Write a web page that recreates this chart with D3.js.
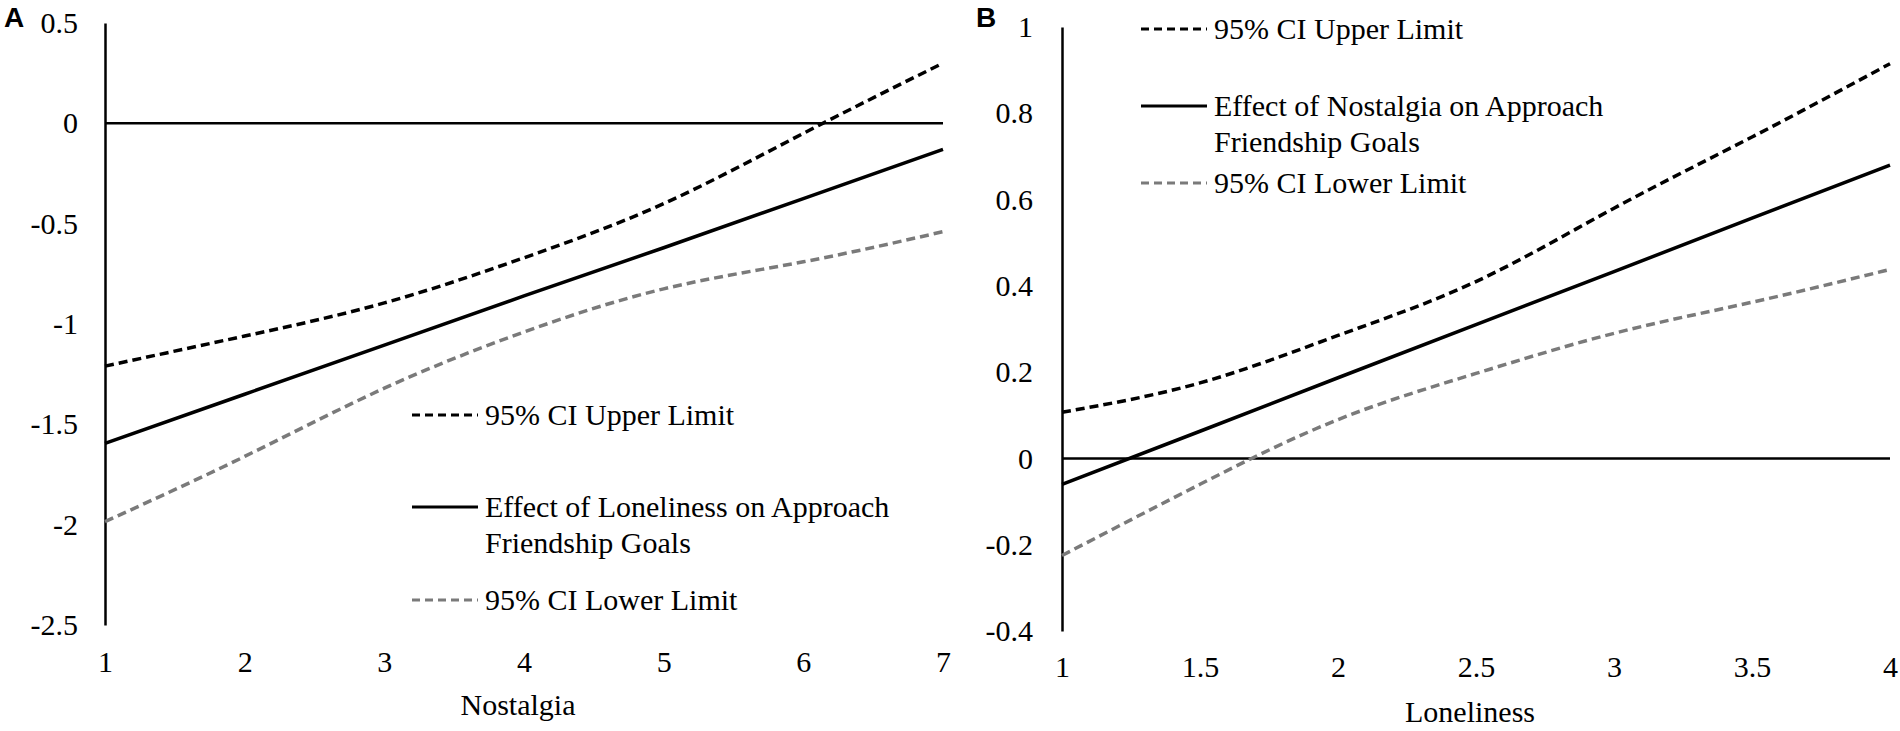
<!DOCTYPE html>
<html>
<head>
<meta charset="utf-8">
<script src="https://cdn.jsdelivr.net/npm/d3@7"></script>
<style>
  body { margin: 0; background: #fff; }
  svg text { font-family: "Liberation Serif", "Times New Roman", serif; fill: #000; }
</style>
</head>
<body>
<div id="chart"></div>
<script>
// Panel A: effect of loneliness across nostalgia
const nostalgia = [1, 2, 3, 4, 5, 6, 7];
const upperA = [-1.21, -1.06, -0.895, -0.67, -0.40, -0.05, 0.30];
const effectA = [-1.595, -1.35, -1.105, -0.86, -0.62, -0.375, -0.13];
const lowerA = [-1.985, -1.66, -1.32, -1.04, -0.825, -0.69, -0.54];
const yTicksA = [0.5, 0, -0.5, -1, -1.5, -2, -2.5];
const xTicksA = [1, 2, 3, 4, 5, 6, 7];

// Panel B: effect of nostalgia across loneliness
const loneliness = [1, 1.5, 2, 2.5, 3, 3.5, 4];
const upperB = [0.107, 0.175, 0.285, 0.41, 0.58, 0.745, 0.915];
const effectB = [-0.06, 0.063, 0.187, 0.31, 0.433, 0.557, 0.68];
const lowerB = [-0.225, -0.06, 0.09, 0.197, 0.29, 0.362, 0.438];
const yTicksB = [1, 0.8, 0.6, 0.4, 0.2, 0, -0.2, -0.4];
const xTicksB = [1, 1.5, 2, 2.5, 3, 3.5, 4];

const width = 1900;
const height = 731;
const svg = d3.select("#chart")
  .append("svg")
  .attr("width", width)
  .attr("height", height);

const grey = "#7a7a7a";

const drawPanel = (p) => {
  const x = d3.scaleLinear().domain(p.xDomain).range([p.left, p.right]);
  const y = d3.scaleLinear().domain(p.yDomain).range([p.bottom, p.top]);
  const g = svg.append("g");

  // y axis with its line
  const yAxis = g.append("g")
    .attr("transform", `translate(${p.left},0)`)
    .call(d3.axisLeft(y).tickValues(p.yTicks).tickSize(0).tickPadding(p.yPad)
      .tickFormat(d => String(d)));
  yAxis.select(".domain").attr("stroke", "#000").attr("stroke-width", 2.5);
  yAxis.selectAll("text").style("font-size", "30px").attr("fill", "#000");

  // x tick labels only, no line
  const xAxis = g.append("g")
    .attr("transform", `translate(0,${p.bottom})`)
    .call(d3.axisBottom(x).tickValues(p.xTicks).tickSize(0).tickPadding(p.xPad)
      .tickFormat(d => String(d)));
  xAxis.select(".domain").remove();
  xAxis.selectAll("text").style("font-size", "30px").attr("fill", "#000");

  // zero reference line
  g.append("line")
    .attr("x1", x(p.xDomain[0])).attr("x2", x(p.xDomain[1]))
    .attr("y1", y(0)).attr("y2", y(0))
    .attr("stroke", "#000").attr("stroke-width", 2.5);

  const smooth = d3.line().x((d, i) => x(p.xs[i])).y(d => y(d)).curve(d3.curveNatural);
  const straight = d3.line().x((d, i) => x(p.xs[i])).y(d => y(d));

  g.append("path").attr("d", smooth(p.lower))
    .attr("fill", "none").attr("stroke", grey).attr("stroke-width", 3.5)
    .attr("stroke-dasharray", "9,5");
  g.append("path").attr("d", straight(p.effect))
    .attr("fill", "none").attr("stroke", "#000").attr("stroke-width", 3.5);
  g.append("path").attr("d", smooth(p.upper))
    .attr("fill", "none").attr("stroke", "#000").attr("stroke-width", 3.5)
    .attr("stroke-dasharray", "9,5");

  // axis title
  g.append("text")
    .attr("x", (p.left + p.right) / 2 - 6)
    .attr("y", p.titleY)
    .attr("text-anchor", "middle")
    .style("font-size", "30px")
    .text(p.title);

  // panel letter
  g.append("text")
    .attr("x", p.letterX)
    .attr("y", 27)
    .style("font-family", "'Liberation Sans', Arial, sans-serif")
    .style("font-weight", "bold")
    .style("font-size", "28px")
    .text(p.letter);

  // legend
  const lg = g.append("g");
  const items = [
    { y: p.legY[0], color: "#000", dash: "8,5", lines: ["95% CI Upper Limit"] },
    { y: p.legY[1], color: "#000", dash: null, lines: p.effectLabel },
    { y: p.legY[2], color: grey, dash: "8,5", lines: ["95% CI Lower Limit"] }
  ];
  items.forEach(it => {
    lg.append("line")
      .attr("x1", p.legX).attr("x2", p.legX + 66)
      .attr("y1", it.y).attr("y2", it.y)
      .attr("stroke", it.color).attr("stroke-width", 3)
      .attr("stroke-dasharray", it.dash);
    it.lines.forEach((t, k) => {
      lg.append("text")
        .attr("x", p.legX + 73)
        .attr("y", it.y + 10 + k * 36)
        .style("font-size", "30px")
        .text(t);
    });
  });
};

drawPanel({
  xs: nostalgia, upper: upperA, effect: effectA, lower: lowerA,
  xDomain: [1, 7], yDomain: [-2.5, 0.5],
  left: 105, right: 943, top: 23, bottom: 625,
  yTicks: yTicksA, xTicks: xTicksA, yPad: 27, xPad: 26,
  title: "Nostalgia", titleY: 715,
  letter: "A", letterX: 4,
  legX: 412, legY: [415, 507, 600],
  effectLabel: ["Effect of Loneliness on Approach", "Friendship Goals"]
});

drawPanel({
  xs: loneliness, upper: upperB, effect: effectB, lower: lowerB,
  xDomain: [1, 4], yDomain: [-0.4, 1],
  left: 1062, right: 1890, top: 27, bottom: 631,
  yTicks: yTicksB, xTicks: xTicksB, yPad: 29, xPad: 25,
  title: "Loneliness", titleY: 722,
  letter: "B", letterX: 976,
  legX: 1141, legY: [29, 106, 183],
  effectLabel: ["Effect of Nostalgia on Approach", "Friendship Goals"]
});
</script>
</body>
</html>
